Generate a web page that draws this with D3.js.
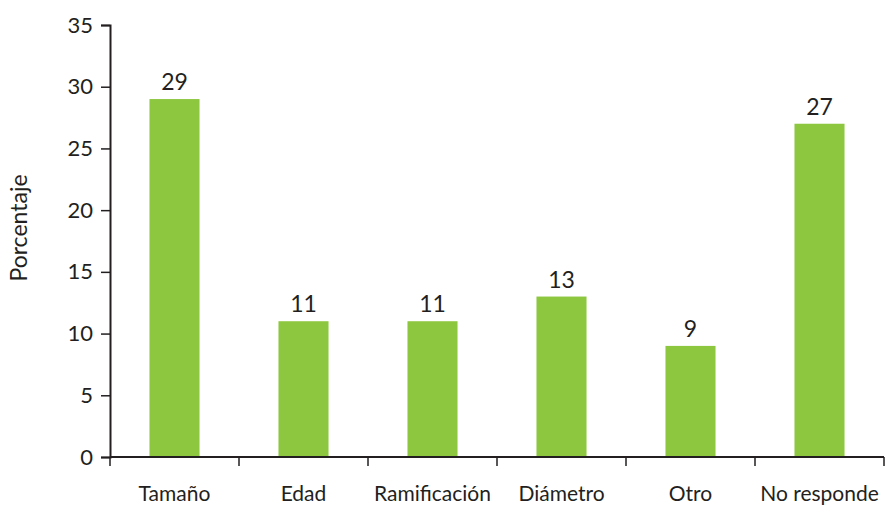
<!DOCTYPE html>
<html>
<head>
<meta charset="utf-8">
<script src="https://cdn.jsdelivr.net/npm/d3@7"></script>
<style>
  html, body { margin: 0; padding: 0; background: #fff; }
  svg text { font-family: Lato, "Open Sans", sans-serif; fill: #231f20; }
</style>
</head>
<body>
<svg id="chart" width="886" height="505"></svg>
<script>
// Categorías y porcentajes
const categories = ["Tamaño", "Edad", "Ramificación", "Diámetro", "Otro", "No responde"];
const values = [29, 11, 11, 13, 9, 27];
const yTicks = [0, 5, 10, 15, 20, 25, 30, 35];
const yTitle = "Porcentaje";

const svg = d3.select("#chart");
const plotLeft = 110, plotRight = 884, plotTop = 25, plotBottom = 457;

const x = d3.scaleBand()
  .domain(categories)
  .range([plotLeft, plotRight])
  .paddingInner(0.612)
  .paddingOuter(0.306);

const y = d3.scaleLinear().domain([0, 35]).range([plotBottom, plotTop]);

// Barras
svg.append("g").selectAll("rect")
  .data(categories)
  .join("rect")
  .attr("x", d => x(d))
  .attr("width", x.bandwidth())
  .attr("y", (d, i) => y(values[i]))
  .attr("height", (d, i) => y(0) - y(values[i]))
  .attr("fill", "#8dc63f");

// Etiquetas de valor
svg.append("g").selectAll("text")
  .data(categories)
  .join("text")
  .attr("x", d => x(d) + x.bandwidth() / 2)
  .attr("y", (d, i) => y(values[i]) - 9)
  .attr("text-anchor", "middle")
  .attr("font-size", 23)
  .text((d, i) => values[i]);

// Eje Y
const yAxis = svg.append("g")
  .attr("transform", `translate(${plotLeft},0)`)
  .call(d3.axisLeft(y).tickValues(yTicks).tickSize(9).tickPadding(8));
yAxis.select(".domain").attr("stroke", "#231f20").attr("stroke-width", 2);
yAxis.selectAll(".tick line").attr("stroke", "#231f20").attr("stroke-width", 1.5);
yAxis.selectAll(".tick text").attr("font-size", 22).attr("fill", "#231f20")
  .style("font-family", "Lato, sans-serif");

// Eje X: línea base con marcas entre categorías
const step = x.step();
const edges = categories.map(d => x(d) - (step - x.bandwidth()) / 2);
edges.push(plotRight);
svg.append("line")
  .attr("x1", plotLeft).attr("x2", plotRight)
  .attr("y1", y(0)).attr("y2", y(0))
  .attr("stroke", "#231f20").attr("stroke-width", 2);
svg.append("g").selectAll("line")
  .data(edges)
  .join("line")
  .attr("x1", d => d).attr("x2", d => d)
  .attr("y1", y(0)).attr("y2", y(0) + 9)
  .attr("stroke", "#231f20").attr("stroke-width", 1.5);

svg.append("g").selectAll("text")
  .data(categories)
  .join("text")
  .attr("x", d => x(d) + x.bandwidth() / 2)
  .attr("y", 501)
  .attr("text-anchor", "middle")
  .attr("font-size", 21)
  .text(d => d);

// Título del eje Y
svg.append("text")
  .attr("transform", `translate(27,228) rotate(-90)`)
  .attr("text-anchor", "middle")
  .attr("font-size", 23)
  .text(yTitle);
</script>
</body>
</html>
